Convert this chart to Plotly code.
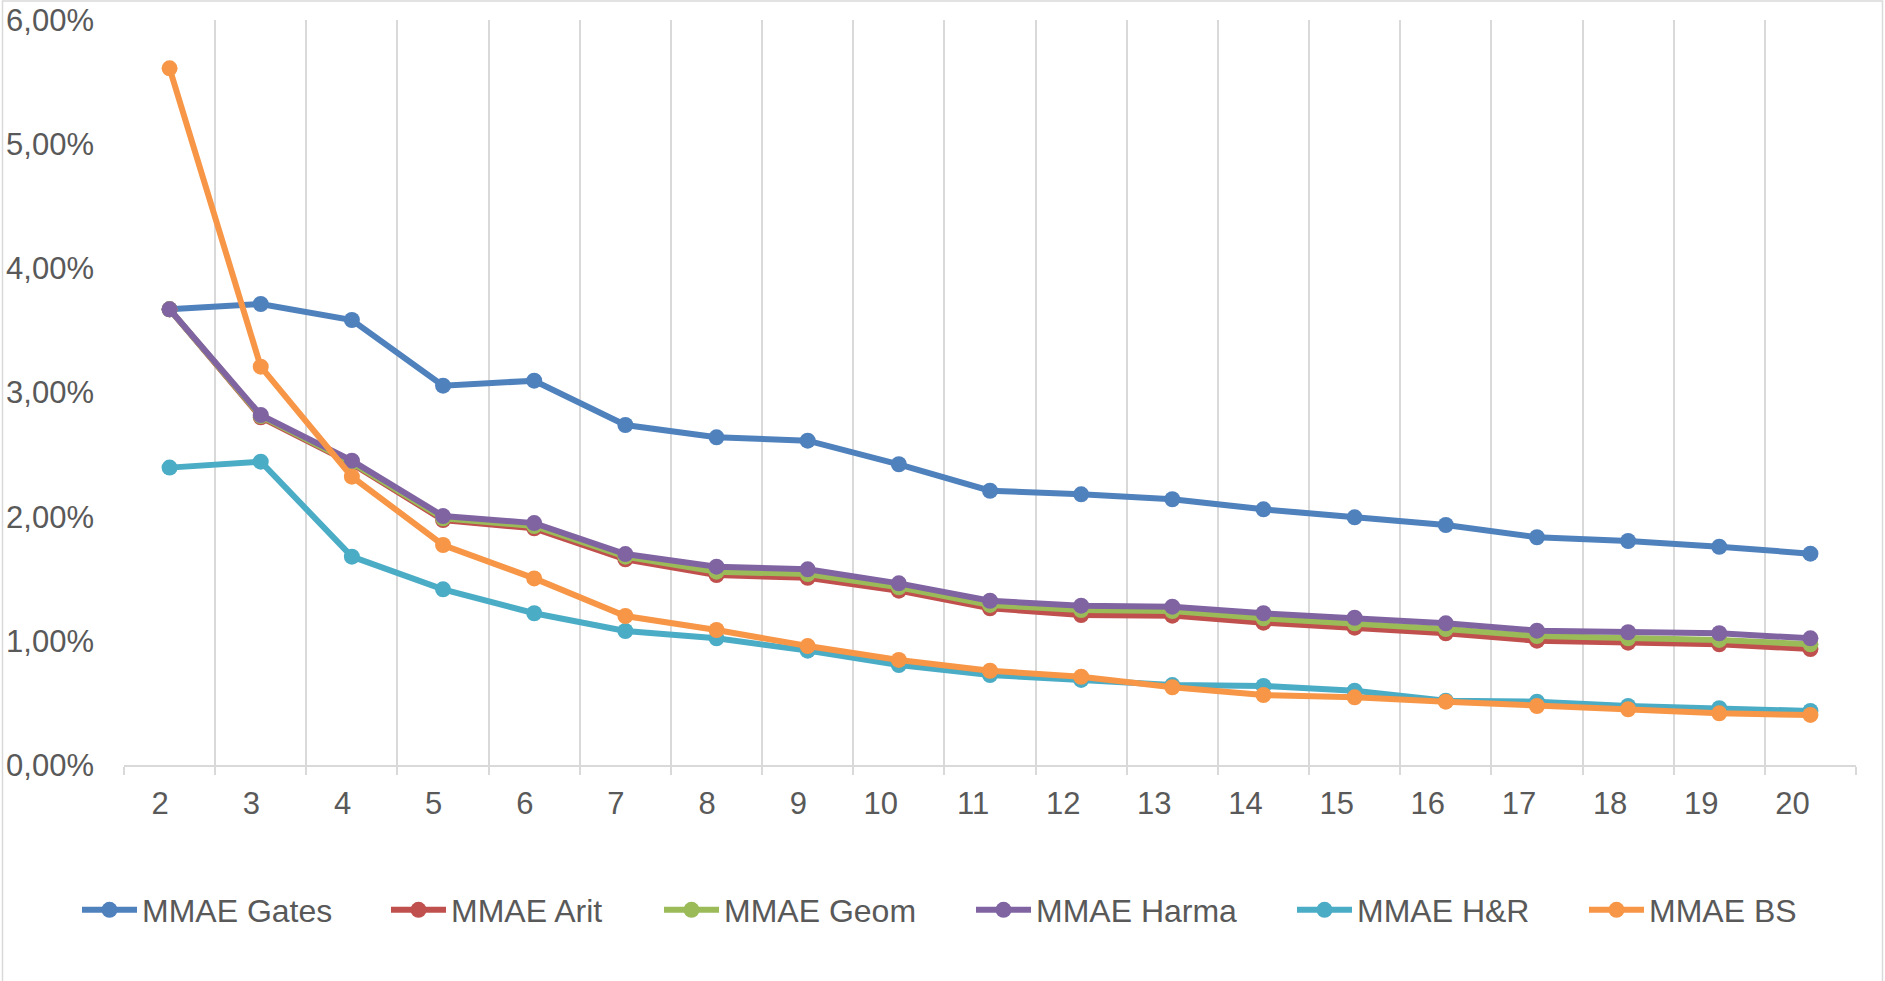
import plotly.graph_objects as go

# Forecast horizon (number of periods)
periods = list(range(2, 21))

# MMAE per method, in percent
mmae_gates = [3.670, 3.713, 3.584, 3.055, 3.095, 2.738, 2.639, 2.612, 2.422, 2.209,
              2.180, 2.140, 2.059, 1.995, 1.933, 1.834, 1.804, 1.758, 1.702]
mmae_arit = [3.670, 2.800, 2.427, 1.973, 1.906, 1.657, 1.530, 1.508, 1.404, 1.262,
             1.208, 1.203, 1.146, 1.106, 1.061, 1.001, 0.985, 0.972, 0.934]
mmae_geom = [3.670, 2.810, 2.435, 1.987, 1.925, 1.678, 1.557, 1.538, 1.431, 1.289,
             1.248, 1.240, 1.181, 1.141, 1.095, 1.039, 1.020, 1.007, 0.972]
mmae_harma = [3.670, 2.819, 2.451, 2.005, 1.948, 1.699, 1.597, 1.576, 1.463, 1.323,
              1.283, 1.275, 1.222, 1.186, 1.141, 1.082, 1.069, 1.061, 1.020]
mmae_hr = [2.395, 2.443, 1.678, 1.415, 1.222, 1.079, 1.020, 0.921, 0.805, 0.725,
           0.685, 0.644, 0.636, 0.598, 0.518, 0.510, 0.475, 0.457, 0.435]
mmae_bs = [5.611, 3.208, 2.322, 1.772, 1.503, 1.200, 1.087, 0.958, 0.846, 0.759,
           0.711, 0.626, 0.564, 0.545, 0.510, 0.475, 0.449, 0.416, 0.403]

series_names = ["MMAE Gates", "MMAE Arit", "MMAE Geom", "MMAE Harma", "MMAE H&R", "MMAE BS"]
series_values = [mmae_gates, mmae_arit, mmae_geom, mmae_harma, mmae_hr, mmae_bs]
series_colors = ["#4F81BD", "#C0504D", "#9BBB59", "#8064A2", "#4BACC6", "#F79646"]

y_ticks = [0, 1, 2, 3, 4, 5, 6]

# Canvas geometry (pixels)
W, H = 1885, 981
ML, MR, MT, MB = 124, 29, 20, 216
PW = W - ML - MR
PH = H - MT - MB


def paper_x(px):
    return (px - ML) / PW


def paper_y(py):
    return (H - MB - py) / PH


FONT = "Liberation Sans, Arial, sans-serif"
TEXT = "#595959"
GRID = "#d9d9d9"

# left edge of each legend entry's line symbol, in pixels
legend_left = [83, 392, 665, 977, 1298, 1590]
legend_mid_y = 910

fig = go.Figure()
legends = {}
for i, (name, vals, color) in enumerate(zip(series_names, series_values, series_colors)):
    key = "legend" if i == 0 else f"legend{i + 1}"
    fig.add_trace(go.Scatter(
        x=periods, y=vals, name=name, mode="lines+markers",
        line=dict(color=color, width=6),
        marker=dict(color=color, size=16),
        legend=key,
        hovertemplate="%{x}: %{y:.2f}%<extra>" + name + "</extra>",
    ))
    legends[key] = dict(
        x=paper_x(legend_left[i] - 6), y=paper_y(legend_mid_y),
        xanchor="left", yanchor="middle",
        orientation="h", itemwidth=55,
        bgcolor="rgba(0,0,0,0)", borderwidth=0,
        font=dict(family=FONT, size=32, color=TEXT),
    )

fig.update_layout(
    width=W, height=H,
    margin=dict(l=ML, r=MR, t=MT, b=MB, pad=0, autoexpand=False),
    paper_bgcolor="white", plot_bgcolor="white",
    showlegend=True,
    font=dict(family=FONT, size=31, color=TEXT),
    **legends,
)

fig.update_xaxes(
    range=[1.5, 20.5], automargin=False,
    tickmode="array", tickvals=periods, ticktext=[str(p) for p in periods],
    ticks="", showgrid=False, zeroline=False,
    ticklabelposition="outside left", ticklabelstandoff=10,
    tickfont=dict(family=FONT, size=31, color=TEXT),
    showline=True, linecolor=GRID, linewidth=1.5,
    minor=dict(tickmode="linear", tick0=1.5, dtick=1,
               showgrid=True, gridcolor=GRID, gridwidth=1.5,
               ticks="outside", ticklen=8, tickcolor=GRID, tickwidth=1.5),
)

fig.update_yaxes(
    range=[0, 6], automargin=False,
    tickmode="array", tickvals=y_ticks,
    ticktext=[f"{v:.2f}%".replace(".", ",") for v in y_ticks],
    showgrid=False, zeroline=False, showline=False,
    ticks="", ticklabelstandoff=29,
    tickfont=dict(family=FONT, size=31, color=TEXT),
)

# chart frame (left, top and right edges; the bottom edge lies off the canvas)
fig.add_shape(type="rect", xref="paper", yref="paper",
              x0=paper_x(2.5), x1=paper_x(1882.5), y0=paper_y(995), y1=paper_y(1),
              line=dict(color=GRID, width=1.5), fillcolor="rgba(0,0,0,0)", layer="below")

fig.write_html("out.html")
